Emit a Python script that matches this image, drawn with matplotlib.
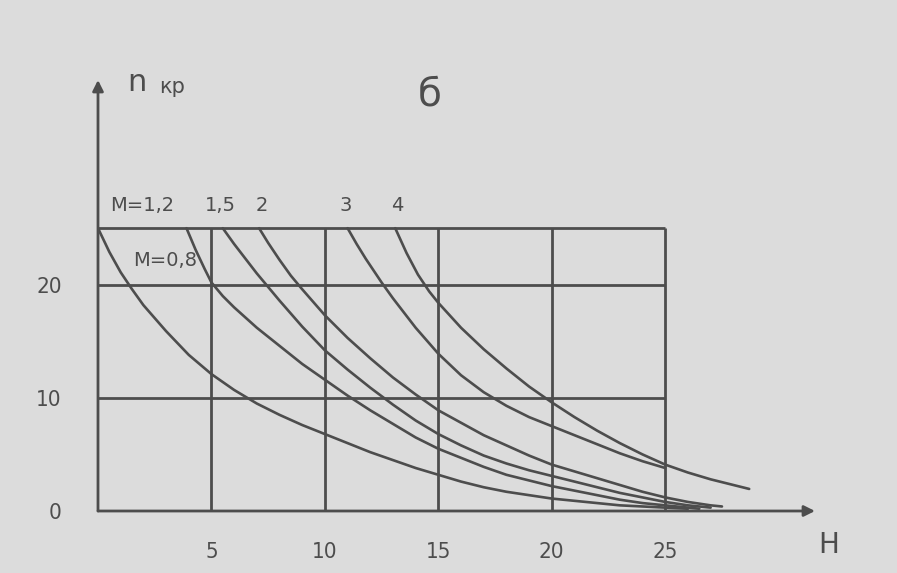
import matplotlib
matplotlib.use("Agg")
import matplotlib.pyplot as plt

# ---- data ----
x_m08 = [0, 0.5, 1, 1.5, 2, 3, 4, 5, 6, 7, 8, 9, 10, 11, 12, 13, 14, 15,
         16, 17, 18, 19, 20, 21, 22, 23, 24, 25, 26]
y_m08 = [25, 22.9, 21.1, 19.6, 18.2, 15.9, 13.8, 12.1, 10.7, 9.5, 8.5, 7.6,
         6.8, 6.0, 5.2, 4.5, 3.8, 3.2, 2.6, 2.1, 1.7, 1.4, 1.1, 0.9, 0.7,
         0.5, 0.4, 0.3, 0.2]

x_m12 = [3.9, 4.3, 4.7, 5, 5.5, 6, 7, 8, 9, 10, 11, 12, 13, 14, 15, 16, 17,
         18, 19, 20, 21, 22, 23, 24, 25, 26.5]
y_m12 = [25, 23.1, 21.4, 20.2, 19.0, 18.0, 16.2, 14.6, 13.0, 11.6, 10.2,
         8.9, 7.7, 6.5, 5.5, 4.7, 3.9, 3.2, 2.7, 2.2, 1.8, 1.4, 1.0, 0.7,
         0.5, 0.2]

x_m15 = [5.5, 6, 6.5, 7, 7.5, 8, 9, 10, 11, 12, 13, 14, 15, 16, 17, 18, 19,
         20, 21, 22, 23, 24, 25, 26, 27]
y_m15 = [25, 23.6, 22.3, 21.0, 19.8, 18.6, 16.3, 14.2, 12.5, 10.9, 9.4,
         8.0, 6.8, 5.8, 4.9, 4.2, 3.6, 3.1, 2.6, 2.1, 1.6, 1.2, 0.8, 0.5,
         0.3]

x_m2 = [7.1, 7.5, 8, 8.5, 9, 10, 11, 12, 13, 14, 15, 16, 17, 18, 19, 20,
        21, 22, 23, 24, 25, 26, 27, 27.5]
y_m2 = [25, 23.7, 22.2, 20.8, 19.6, 17.3, 15.3, 13.5, 11.8, 10.3, 8.9, 7.8,
        6.7, 5.8, 4.9, 4.1, 3.5, 2.9, 2.3, 1.7, 1.2, 0.8, 0.5, 0.4]

x_m3 = [11.0, 11.4, 11.8, 12.2, 12.5, 13, 14, 15, 16, 17, 18, 19, 20, 21,
        22, 23, 24, 25]
y_m3 = [25, 23.6, 22.3, 21.1, 20.2, 18.8, 16.2, 13.9, 12.0, 10.5, 9.3, 8.3,
        7.5, 6.7, 5.9, 5.1, 4.4, 3.8]

x_m4 = [13.1, 13.6, 14.1, 14.6, 15, 16, 17, 18, 19, 20, 21, 22, 23, 24, 25,
        26, 27, 28, 28.7]
y_m4 = [25, 22.8, 20.9, 19.4, 18.4, 16.2, 14.3, 12.6, 11.0, 9.6, 8.3, 7.1,
        6.0, 5.0, 4.1, 3.4, 2.8, 2.3, 1.95]

curve_labels = ["M=1,2", "1,5", "2", "3", "4"]
curve_label_x = [1.95, 5.4, 7.2, 10.9, 13.2]
label_m08 = "M=0,8"

x_ticks = [5, 10, 15, 20, 25]
y_ticks = [0, 10, 20]
grid_v = [5, 10, 15, 20, 25]
grid_h = [10, 20, 25]
grid_top = 25
grid_right = 25

# ---- style ----
paper = "#dcdcdc"
ink = "#4d4d4d"

fig = plt.figure(figsize=(8.97, 5.73), dpi=100, facecolor=paper)
W, H = 897, 573
ax = fig.add_axes([98 / W, (H - 511) / H, (815 - 98) / W, (511 - 80) / H])
ax.set_facecolor(paper)
ax.patch.set_alpha(0)
ax.set_xlim(0, 31.6)
ax.set_ylim(0, 38.1)
for s in ax.spines.values():
    s.set_visible(False)

# grid box
for gx in grid_v:
    ax.plot([gx, gx], [0, grid_top], color=ink, lw=2.0, solid_capstyle="butt")
for gy in grid_h:
    ax.plot([0, grid_right], [gy, gy], color=ink, lw=2.0, solid_capstyle="butt")

# axes with arrows
arrow_kw = dict(arrowstyle="-|>", color=ink, lw=2.0, mutation_scale=16,
                shrinkA=0, shrinkB=0)
ax.annotate("", xy=(31.6, 0), xytext=(0, 0), arrowprops=arrow_kw,
            annotation_clip=False)
ax.annotate("", xy=(0, 38.1), xytext=(0, 0), arrowprops=arrow_kw,
            annotation_clip=False)

# curves
for xs, ys in [(x_m08, y_m08), (x_m12, y_m12), (x_m15, y_m15),
               (x_m2, y_m2), (x_m3, y_m3), (x_m4, y_m4)]:
    ax.plot(xs, ys, color=ink, lw=1.9, solid_joinstyle="round",
            solid_capstyle="round")

# ticks
tick_font = dict(family="DejaVu Sans", stretch="condensed")
ax.set_xticks(x_ticks)
ax.set_xticklabels([str(v) for v in x_ticks], fontsize=16, color=ink, **tick_font)
ax.set_yticks(y_ticks)
ax.set_yticklabels([str(v) for v in y_ticks], fontsize=16, color=ink, **tick_font)
ax.tick_params(axis="x", length=0, pad=22)
ax.tick_params(axis="y", length=0, pad=26)

# labels on curves
for txt, lx in zip(curve_labels, curve_label_x):
    ax.text(lx, 27.0, txt, ha="center", va="center", fontsize=14, color=ink)
ax.text(2.95, 22.1, label_m08, ha="center", va="center", fontsize=14, color=ink)

# axis titles and panel letter
ax.text(1.3, 37.9, "n", ha="left", va="center", fontsize=22, color=ink,
        clip_on=False)
ax.text(2.7, 37.5, "кр", ha="left", va="center", fontsize=15, color=ink,
        clip_on=False)
ax.text(14.6, 36.8, "б", ha="center", va="center", fontsize=28, color=ink,
        clip_on=False)
ax.text(32.2, -3.0, "Н", ha="center", va="center", fontsize=20, color=ink,
        clip_on=False)

fig.savefig("out.png", dpi=100, facecolor=paper)
